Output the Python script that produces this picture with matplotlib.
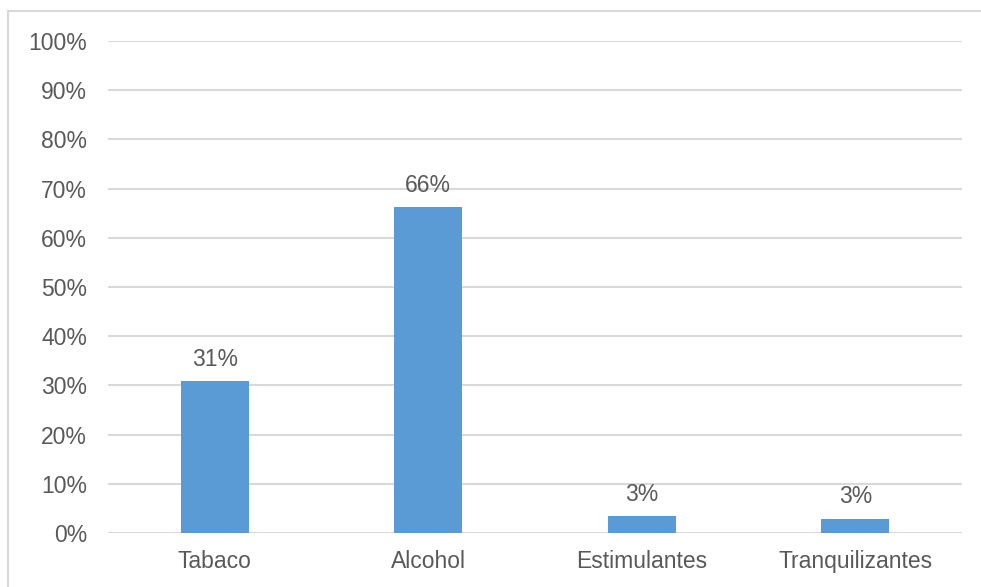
import matplotlib.pyplot as plt
from matplotlib.lines import Line2D

categories = ["Tabaco", "Alcohol", "Estimulantes", "Tranquilizantes"]
values = [0.309, 0.663, 0.034, 0.029]
labels = ["31%", "66%", "3%", "3%"]
yticks = [i / 10 for i in range(11)]
ytick_labels = [f"{i * 10}%" for i in range(11)]

plt.rcParams["font.family"] = ["Liberation Sans", "DejaVu Sans"]
text_color = "#595959"
grid_color = "#D9D9D9"

fig = plt.figure(figsize=(9.81, 5.87), dpi=100)
ax = fig.add_axes([108 / 981, 1 - 533 / 587, 854 / 981, 492 / 587])

x = range(len(categories))
ax.bar(x, values, width=0.32, color="#5B9BD5", zorder=3)
for xi, v, lab in zip(x, values, labels):
    ax.annotate(lab, (xi, v), xytext=(0, 11), textcoords="offset points",
                ha="center", va="baseline", fontsize=16.5, color=text_color)

ax.set_xlim(-0.5, len(categories) - 0.5)
ax.set_ylim(0, 1)
ax.set_yticks(yticks)
ax.set_yticklabels(ytick_labels)
ax.set_xticks(list(x))
ax.set_xticklabels(categories)
ax.tick_params(axis="both", length=0, labelsize=16.5, labelcolor=text_color)
ax.tick_params(axis="y", pad=15)
ax.tick_params(axis="x", pad=12)
ax.grid(axis="y", color=grid_color, linewidth=1.5, zorder=0)
for s in ax.spines.values():
    s.set_visible(False)

# outer chart border (only top and left visible in the crop)
fig.add_artist(Line2D([8 / 981, 8 / 981], [0, 1 - 11 / 587], color=grid_color, linewidth=1.5))
fig.add_artist(Line2D([8 / 981, 1], [1 - 11 / 587, 1 - 11 / 587], color=grid_color, linewidth=1.5))

fig.savefig("out.png", dpi=100)
